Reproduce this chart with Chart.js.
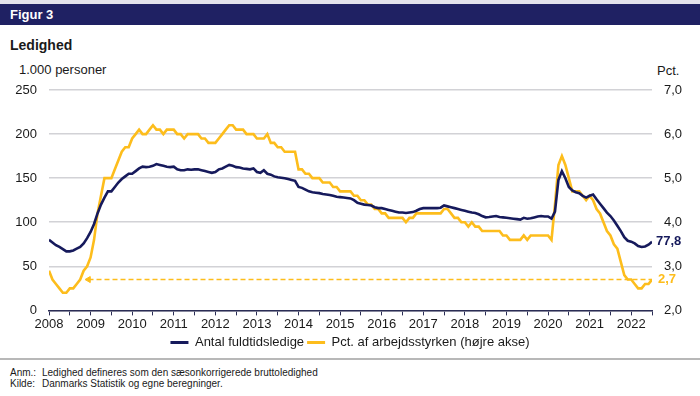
<!DOCTYPE html>
<html>
<head>
<meta charset="utf-8">
<script src="https://cdn.jsdelivr.net/npm/chart.js@4"></script>
<style>
  body { margin: 0; width: 700px; height: 396px; background: #fff; position: relative; overflow: hidden;
         font-family: "Liberation Sans", Arial, sans-serif; color: #1a1a1a; }
  #topline { position: absolute; left: 0; top: 0; width: 700px; height: 4px; background: #e3e3ec; }
  #header { position: absolute; left: 0; top: 4px; width: 700px; height: 21px; background: #1f2163;
            color: #fff; font-weight: bold; font-size: 13px; line-height: 21px; padding-left: 10px; box-sizing: border-box; }
  #title { position: absolute; left: 10px; top: 37px; font-weight: bold; font-size: 14px; }
  #unitL { position: absolute; left: 19px; top: 62px; font-size: 13px; }
  #unitR { position: absolute; left: 657px; top: 63px; font-size: 13px; }
  #wrap { position: absolute; left: 0; top: 60px; width: 700px; height: 305px; }
  #sep { position: absolute; left: 0; top: 358px; width: 700px; height: 2px; background: #b8b8b8; }
  .note { position: absolute; left: 10px; font-size: 10px; }
  .note span { display: inline-block; width: 32px; }
</style>
</head>
<body>
<div id="topline"></div>
<div id="header">Figur 3</div>
<div id="title">Ledighed</div>
<div id="unitL">1.000 personer</div>
<div id="unitR">Pct.</div>
<div id="wrap"><canvas id="chart"></canvas></div>
<div id="sep"></div>
<div class="note" style="top:367px"><span>Anm.:</span>Ledighed defineres som den sæsonkorrigerede bruttoledighed</div>
<div class="note" style="top:378px"><span>Kilde:</span>Danmarks Statistik og egne beregninger.</div>
<script>
// monthly data, Jan 2008 - Jul 2022
const startYear = 2008;
const antal = [
  80, 77, 74, 72, 69.5, 67, 67, 68, 70, 72, 76, 82,
  89, 98, 110, 120, 128, 135, 135, 140, 145, 149, 152, 155,
  155, 158, 161, 163, 162.5, 163, 164, 166, 165, 164, 163, 162.5,
  163, 160, 159, 159, 160, 159.5, 160, 160, 159, 158, 157, 156,
  157, 160, 161, 163, 165, 164, 162.5, 162, 161, 160.5, 160, 161,
  157, 156, 159, 155, 154, 152, 151, 150.5, 150, 149, 148, 147,
  140, 139, 137, 135, 134, 133.5, 133, 132, 131.5, 131, 130, 129,
  128.5, 128, 127.5, 127, 125, 122, 121, 120, 119.5, 119, 117, 116,
  116, 115, 114, 113, 112, 111, 111, 110.5, 111, 111.5, 113, 115,
  116, 116, 116, 116, 116, 116.5, 119, 118, 117, 116, 115, 114,
  113, 112, 111, 110.5, 109, 107, 105.6, 106, 106.5, 107, 106, 105.5,
  105, 104.5, 104, 103.5, 103, 105, 104, 104.5, 105.5, 106.5, 107, 106.5,
  106.5, 104, 112, 148, 158, 150, 140, 136, 134, 133, 130, 128,
  130, 131.5, 126, 121, 116, 111, 107, 102, 96, 90, 83, 79,
  78, 76, 73, 72, 72.5, 74.5, 77.8
];
const pct = [
  2.9, 2.7, 2.6, 2.5, 2.4, 2.4, 2.5, 2.5, 2.6, 2.7, 2.9, 3.0,
  3.2, 3.6, 4.2, 4.6, 5.0, 5.0, 5.0, 5.2, 5.4, 5.6, 5.7, 5.7,
  5.9, 6.0, 6.1, 6.0, 6.0, 6.1, 6.2, 6.1, 6.1, 6.0, 6.1, 6.1,
  6.1, 6.0, 6.0, 5.9, 6.0, 6.0, 6.0, 6.0, 5.9, 5.9, 5.8, 5.8,
  5.8, 5.9, 6.0, 6.1, 6.2, 6.2, 6.1, 6.1, 6.1, 6.0, 6.0, 6.0,
  5.9, 5.9, 5.9, 6.0, 5.8, 5.8, 5.7, 5.7, 5.6, 5.6, 5.6, 5.6,
  5.2, 5.2, 5.1, 5.1, 5.0, 5.0, 5.0, 4.9, 4.9, 4.9, 4.8, 4.8,
  4.7, 4.7, 4.7, 4.7, 4.6, 4.6, 4.5, 4.5, 4.4, 4.4, 4.3, 4.3,
  4.2, 4.2, 4.1, 4.1, 4.1, 4.1, 4.1, 4.0, 4.1, 4.1, 4.2, 4.2,
  4.2, 4.2, 4.2, 4.2, 4.2, 4.2, 4.3, 4.3, 4.2, 4.1, 4.1, 4.0,
  4.0, 3.9, 4.0, 3.9, 3.9, 3.8, 3.8, 3.8, 3.8, 3.8, 3.8, 3.7,
  3.7, 3.6, 3.6, 3.6, 3.6, 3.7, 3.6, 3.7, 3.7, 3.7, 3.7, 3.7,
  3.7, 3.6, 4.4, 5.3, 5.5, 5.3, 5.0, 4.7, 4.7, 4.7, 4.6, 4.5,
  4.6, 4.5, 4.3, 4.2, 4.0, 3.8, 3.7, 3.5, 3.4, 3.1, 2.8, 2.7,
  2.7, 2.6, 2.5, 2.5, 2.6, 2.6, 2.7
];
const seriesNames = ["Antal fuldtidsledige", "Pct. af arbejdsstyrken (højre akse)"];
const leftRange = [0, 250, 50];
const rightRange = [2, 7, 1];
const arrowFrom = 2008.95; // start of the dashed reference line

const NAVY = "#161a5c";
const YELLOW = "#fdbd1c";

const xOf = i => startYear + i / 12;
const antalPts = antal.map((v, i) => ({ x: xOf(i), y: v }));
const pctPts = pct.map((v, i) => ({ x: xOf(i), y: v }));
const lastX = xOf(antal.length - 1);
const lastPct = pct[pct.length - 1];
const lastAntal = antal[antal.length - 1];

const comma = (v, d) => v.toFixed(d).replace(".", ",");

Chart.defaults.font.family = "'Liberation Sans', Arial, sans-serif";
Chart.defaults.font.size = 13;
Chart.defaults.color = "#1a1a1a";

// value labels at the right end of both lines
const endLabels = {
  id: "endLabels",
  afterDatasetsDraw(chart) {
    const c = chart.ctx;
    const yl = chart.scales.y, yr = chart.scales.y2;
    c.save();
    c.font = "bold 13px 'Liberation Sans', Arial, sans-serif";
    c.textBaseline = "middle";
    c.fillStyle = NAVY;
    c.fillText(comma(lastAntal, 1), chart.chartArea.right + 4, yl.getPixelForValue(lastAntal));
    c.fillStyle = YELLOW;
    c.fillText(comma(lastPct, 1), chart.chartArea.right + 6, yr.getPixelForValue(lastPct));
    c.restore();
  }
};

new Chart(document.getElementById("chart"), {
  type: "line",
  data: {
    datasets: [
      {
        label: seriesNames[0], data: antalPts, yAxisID: "y",
        borderColor: NAVY, backgroundColor: NAVY, borderWidth: 2.6, pointRadius: 0, tension: 0
      },
      {
        label: seriesNames[1], data: pctPts, yAxisID: "y2",
        borderColor: YELLOW, backgroundColor: YELLOW, borderWidth: 2.6, pointRadius: 0, tension: 0
      },
      {
        label: "ref", data: [{ x: arrowFrom, y: lastPct }, { x: lastX, y: lastPct }], yAxisID: "y2",
        borderColor: YELLOW, backgroundColor: YELLOW, borderWidth: 1.5, borderDash: [5, 3],
        pointStyle: "triangle", rotation: -90, pointRadius: [3.5, 0], pointBorderWidth: 1
      }
    ]
  },
  options: {
    responsive: true,
    maintainAspectRatio: false,
    animation: false,
    layout: { padding: { top: 30, left: 0, right: 0, bottom: 6 } },
    plugins: {
      tooltip: { enabled: false },
      legend: {
        position: "bottom",
        labels: {
          boxWidth: 18, boxHeight: 3, padding: 3, color: "#1a1a1a",
          filter: item => item.datasetIndex < 2,
          generateLabels: chart => Chart.defaults.plugins.legend.labels.generateLabels(chart)
            .map(l => Object.assign(l, { lineWidth: 0, lineDash: [] }))
        }
      }
    },
    scales: {
      x: {
        type: "linear", min: startYear, max: lastX,
        afterBuildTicks: s => { s.ticks = []; for (let v = startYear; v <= lastX + 1e-9; v += 0.5) s.ticks.push({ value: v }); },
        ticks: {
          autoSkip: false, maxRotation: 0, padding: 1, color: "#1a1a1a",
          callback: v => Number.isInteger(v) ? String(v) : ""
        },
        grid: { drawOnChartArea: false, drawTicks: true, tickLength: 5, color: "#2b2d55" },
        border: { color: "#2b2d55", width: 1.5 }
      },
      y: {
        position: "left", min: leftRange[0], max: leftRange[1],
        ticks: { stepSize: leftRange[2], padding: 12, color: "#1a1a1a" },
        grid: { color: "#d2d2d6", lineWidth: 1.5, drawTicks: false },
        border: { display: false },
        afterFit: s => { s.width = 49; }
      },
      y2: {
        position: "right", min: rightRange[0], max: rightRange[1],
        ticks: { stepSize: rightRange[2], padding: 12, color: "#1a1a1a", callback: v => comma(v, 1) },
        grid: { drawOnChartArea: false, drawTicks: false },
        border: { display: false },
        afterFit: s => { s.width = 48; }
      }
    }
  },
  plugins: [endLabels]
});
</script>
</body>
</html>
